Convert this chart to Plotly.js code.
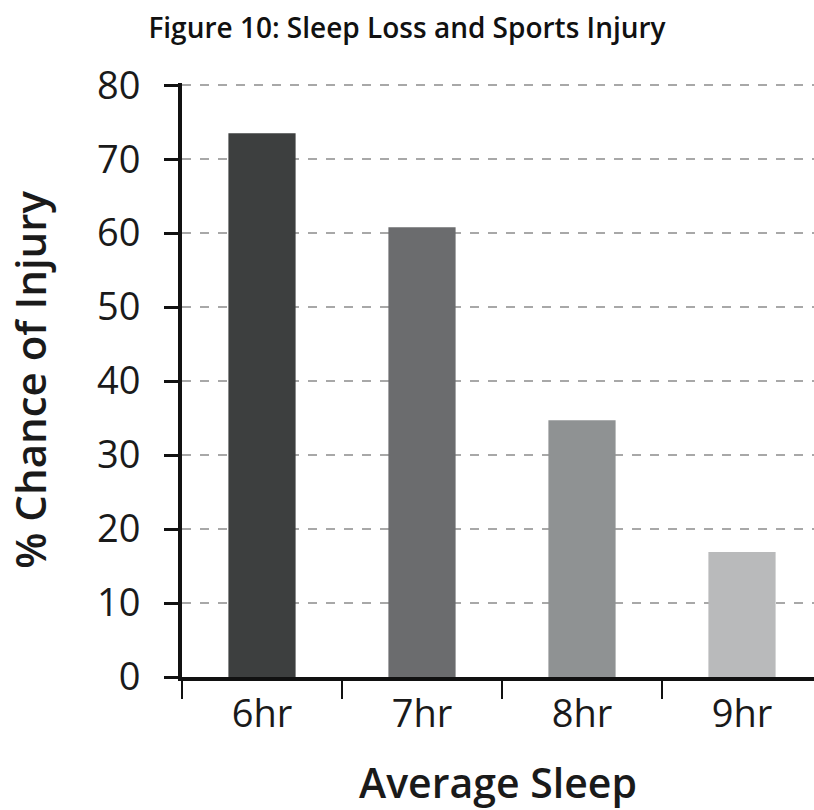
<!DOCTYPE html>
<html>
<head>
<meta charset="utf-8">
<script src="https://cdn.plot.ly/plotly-3.0.1.min.js"></script>
<style>html,body{margin:0;padding:0;background:#fff;}#chart{width:814px;height:810px;}</style>
</head>
<body>
<div id="chart"></div>
<script>
const categories = ["6hr", "7hr", "8hr", "9hr"];
const injuryChance = [73.5, 60.8, 34.7, 16.9];
const barColors = ["#3d3f3f", "#6b6c6e", "#8f9293", "#b9babb"];
const yTicks = [0, 10, 20, 30, 40, 50, 60, 70, 80];
const chartTitle = "Figure 10: Sleep Loss and Sports Injury";
const xTitle = "Average Sleep";
const yTitle = "% Chance of Injury";

const FONT = "'Open Sans', 'Noto Sans', sans-serif";

const trace = {
  type: "bar",
  x: categories,
  y: injuryChance,
  marker: {color: barColors, line: {width: 0}},
  width: 0.42,
  hoverinfo: "x+y"
};

const layout = {
  width: 814,
  height: 810,
  paper_bgcolor: "#ffffff",
  plot_bgcolor: "#ffffff",
  margin: {l: 182, r: 0, t: 83, b: 133, autoexpand: false},
  showlegend: false,
  font: {family: FONT, color: "#1a1a1a"},
  title: {
    text: chartTitle,
    font: {family: FONT, size: 28, color: "#111", weight: 600},
    x: 0.5, xref: "container", xanchor: "center",
    y: 1 - 28 / 810, yref: "container", yanchor: "middle"
  },
  xaxis: {
    type: "category",
    range: [-0.5, -0.5 + 632 / 160],
    tickson: "boundaries",
    ticks: "outside",
    ticklen: 18,
    tickwidth: 2,
    tickcolor: "#111",
    showline: true,
    linewidth: 4,
    linecolor: "#111",
    showgrid: false,
    zeroline: false,
    tickfont: {family: FONT, size: 38, color: "#1a1a1a"},
    ticklabelstandoff: 0,
    automargin: false,
    title: {text: xTitle, font: {family: FONT, size: 41, color: "#1a1a1a", weight: 600}, standoff: 34}
  },
  yaxis: {
    range: [0, 80.3],
    tickvals: yTicks,
    ticktext: yTicks.map(String),
    ticks: "outside",
    ticklen: 14,
    tickwidth: 3,
    tickcolor: "#111",
    showline: true,
    linewidth: 4,
    linecolor: "#111",
    showgrid: true,
    gridcolor: "#a8a8a8",
    gridwidth: 1.5,
    griddash: "dash",
    zeroline: false,
    tickfont: {family: FONT, size: 38, color: "#1a1a1a"},
    ticklabelstandoff: 16,
    automargin: false,
    title: {text: yTitle, font: {family: FONT, size: 42, color: "#1a1a1a", weight: 600}, standoff: 38}
  }
};

Plotly.newPlot("chart", [trace], layout, {displayModeBar: false, staticPlot: true});
</script>
</body>
</html>
